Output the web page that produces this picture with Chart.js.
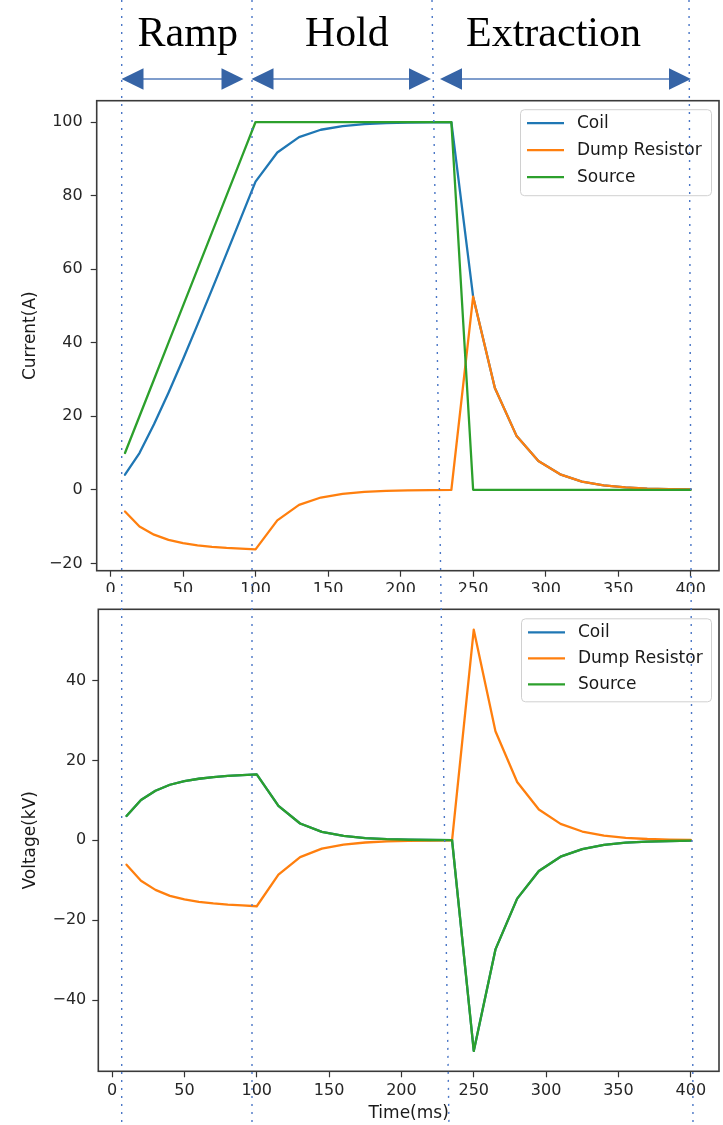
<!DOCTYPE html>
<html><head><meta charset="utf-8">
<script src="https://cdn.jsdelivr.net/npm/chart.js@4.4.1/dist/chart.umd.min.js"></script>
<style>
html,body{margin:0;padding:0;background:#fff;}
#stage{position:relative;width:723px;height:1125px;overflow:hidden;background:#fff;}
#topWrap{position:absolute;left:0;top:0;width:723px;height:592px;overflow:hidden;}
#botWrap{position:absolute;left:0;top:592px;width:723px;height:533px;overflow:hidden;background:#fff;}
#overlay{position:absolute;left:0;top:0;pointer-events:none;}
canvas{display:block;}
</style></head>
<body><div id="stage">
<div id="topWrap"><canvas id="cTop" width="723" height="611"></canvas></div>
<div id="botWrap"><canvas id="cBot" width="723" height="533"></canvas></div>
<svg id="overlay" width="723" height="1125" xmlns="http://www.w3.org/2000/svg"></svg>
</div>
<script>
// ---------------- DATA ----------------
const times = [10,20,30,40,50,60,70,80,90,100,115,130,145,160,175,190,205,220,235,250,265,280,295,310,325,340,355,370,385,400];

const coilCurrent   = [4.1,10.0,17.8,26.4,35.5,44.9,54.5,64.2,74.0,83.8, 91.7,95.9,97.9,98.9,99.45,99.72,99.86,99.93,99.96, 52.5,27.7,14.6,7.8,4.2,2.2,1.2,0.63,0.33,0.18,0.09];
const dumpCurrent   = [-5.9,-10.0,-12.2,-13.6,-14.5,-15.1,-15.5,-15.8,-16.0,-16.2, -8.3,-4.1,-2.1,-1.1,-0.55,-0.28,-0.14,-0.07,-0.04, 52.5,27.7,14.6,7.8,4.2,2.2,1.2,0.63,0.33,0.18,0.09];
const sourceCurrent = [10,20,30,40,50,60,70,80,90,100, 100,100,100,100,100,100,100,100,100, 0,0,0,0,0,0,0,0,0,0,0];

const coilVoltage   = [6.1,10.1,12.4,13.9,14.8,15.4,15.8,16.1,16.3,16.5, 8.6,4.2,2.1,1.1,0.55,0.28,0.14,0.07,0.04, -52.7,-27.3,-14.6,-7.7,-4.1,-2.2,-1.15,-0.6,-0.32,-0.17,-0.09];
const dumpVoltage   = [-6.1,-10.1,-12.4,-13.9,-14.8,-15.4,-15.8,-16.1,-16.3,-16.5, -8.6,-4.2,-2.1,-1.1,-0.55,-0.28,-0.14,-0.07,-0.04, 52.7,27.3,14.6,7.7,4.1,2.2,1.15,0.6,0.32,0.17,0.09];
const sourceVoltage = [6.1,10.1,12.4,13.9,14.8,15.4,15.8,16.1,16.3,16.5, 8.6,4.2,2.1,1.1,0.55,0.28,0.14,0.07,0.04, -52.7,-27.3,-14.6,-7.7,-4.1,-2.2,-1.15,-0.6,-0.32,-0.17,-0.09];

const seriesLabels = ['Coil','Dump Resistor','Source'];
const xTickValues = [0,50,100,150,200,250,300,350,400];
const currentTickValues = [-20,0,20,40,60,80,100];
const voltageTickValues = [-40,-20,0,20,40];
const phaseNames = ['Ramp','Hold','Extraction'];
const currentTitle = 'Current(A)';
const voltageTitle = 'Voltage(kV)';
const timeTitle = 'Time(ms)';

// ---------------- STYLE ----------------
const colors = ['#1f77b4','#ff7f0e','#2ca02c'];
const FONT = "'DejaVu Sans', sans-serif";
const W = 723;

const framePlugin = {
  id:'mplFrame',
  afterDatasetsDraw(chart){
    const a = chart.chartArea, ctx = chart.ctx;
    ctx.save();
    ctx.strokeStyle = '#3a3a3a'; ctx.lineWidth = 1.6;
    ctx.strokeRect(a.left, a.top, a.right - a.left, a.bottom - a.top);
    ctx.restore();
  }
};

const legendPlugin = {
  id:'mplLegend',
  afterDraw(chart, args, o){
    const ctx = chart.ctx, a = chart.chartArea, ds = chart.data.datasets;
    const x0 = a.right - o.right - o.width, y0 = a.top + o.top;
    ctx.save();
    ctx.beginPath();
    ctx.roundRect(x0 + 0.5, y0 + 0.5, o.width, o.height, 4);
    ctx.fillStyle = 'rgba(255,255,255,0.85)'; ctx.fill();
    ctx.strokeStyle = '#d0d0d0'; ctx.lineWidth = 1; ctx.stroke();
    ds.forEach((d, i) => {
      const cy = y0 + o.firstRow + i * o.rowGap;
      ctx.beginPath();
      ctx.moveTo(x0 + 7, cy); ctx.lineTo(x0 + 44, cy);
      ctx.strokeStyle = d.borderColor; ctx.lineWidth = 2.3; ctx.stroke();
      ctx.fillStyle = '#1a1a1a';
      ctx.font = '17px ' + FONT;
      ctx.textBaseline = 'middle'; ctx.textAlign = 'left';
      ctx.fillText(d.label, x0 + 57, cy);
    });
    ctx.restore();
  }
};

const minusFmt = v => v < 0 ? '\u2212' + Math.abs(v) : String(v);

function mplChart(canvas, cfg){
  const scaleCommon = {
    grid:{drawOnChartArea:false, drawTicks:true, tickLength:6, tickColor:'#333', tickWidth:1.2, color:'#333'},
    border:{display:false}
  };
  return new Chart(canvas, {
    type:'line',
    data:{ datasets: cfg.series.map((vals, i) => ({
      label: seriesLabels[i],
      data: times.map((t, k) => ({x:t, y:vals[k]})),
      borderColor: colors[i], backgroundColor: colors[i],
      borderWidth: 2.3, pointRadius: 0, tension: 0, fill: false,
      borderJoinStyle:'round', borderCapStyle:'round',
      order: cfg.series.length - i
    }))},
    options:{
      responsive:false, animation:false, events:[],
      layout:{padding:{top:cfg.areaTop, right:W - cfg.areaRight, left:0, bottom:0}},
      plugins:{
        legend:{display:false}, tooltip:{enabled:false},
        mplLegend: cfg.legend
      },
      scales:{
        x:{
          type:'linear', min:-9.5, max:419.5,
          afterBuildTicks: s => { s.ticks = xTickValues.map(v => ({value:v})); },
          afterFit: s => { s.height = cfg.xAxisHeight; },
          ticks:{font:{family:FONT, size:16}, color:'#262626', padding:cfg.xPad, maxRotation:0, autoSkip:false, callback:minusFmt},
          title: cfg.xTitle ? {display:true, text:cfg.xTitle, font:{family:FONT, size:17}, color:'#1a1a1a', padding:{top:0, bottom:cfg.xTitlePad}} : {display:false},
          ...scaleCommon
        },
        y:{
          type:'linear', min:cfg.yMin, max:cfg.yMax,
          afterBuildTicks: s => { s.ticks = cfg.yTicks.map(v => ({value:v})); },
          afterFit: s => { s.width = cfg.areaLeft; },
          ticks:{font:{family:FONT, size:16}, color:'#262626', padding:cfg.yPad, autoSkip:false, callback:minusFmt},
          title:{display:true, text:cfg.yTitle, font:{family:FONT, size:17}, color:'#1a1a1a', padding:{top:20, bottom:0}},
          ...scaleCommon
        }
      }
    },
    plugins:[framePlugin, legendPlugin]
  });
}

mplChart(document.getElementById('cTop'), {
  series:[coilCurrent, dumpCurrent, sourceCurrent],
  areaTop:100.7, areaLeft:96.7, areaRight:719, xAxisHeight:611 - 570.7,
  yMin:-22.0, yMax:105.8, yTicks:currentTickValues, yTitle:currentTitle,
  xPad:4, yPad:8, xTitle:null,
  legend:{width:191, height:86, right:8, top:8.5, firstRow:14, rowGap:27}
});

mplChart(document.getElementById('cBot'), {
  series:[coilVoltage, dumpVoltage, sourceVoltage],
  areaTop:609.3 - 592, areaLeft:98.3, areaRight:719, xAxisHeight:533 - (1071.3 - 592),
  yMin:-57.8, yMax:57.8, yTicks:voltageTickValues, yTitle:voltageTitle,
  xPad:4, yPad:6, xTitle:timeTitle, xTitlePad:1,
  legend:{width:190, height:83, right:8, top:9, firstRow:14, rowGap:26}
});

// ---------------- HEADER / ANNOTATIONS ----------------
(function(){
  const NS = 'http://www.w3.org/2000/svg';
  const svg = document.getElementById('overlay');
  const mk = (tag, attrs, text) => {
    const e = document.createElementNS(NS, tag);
    for (const k in attrs) e.setAttribute(k, attrs[k]);
    if (text) e.textContent = text;
    svg.appendChild(e); return e;
  };
  const textX = [137.5, 305, 466];
  const textW = [100.5, 83.5, 175];
  phaseNames.forEach((p, i) => {
    mk('text', {x:textX[i], y:46, 'font-family':"'Liberation Serif','Times New Roman',serif", 'font-size':42,
      fill:'#000', textLength:textW[i], lengthAdjust:'spacingAndGlyphs'}, p);
  });
  const arrows = [[121.5,243.5],[251.5,431],[440,691]];
  const ay = 79, hw = 22, hh = 10.8;
  arrows.forEach(([l, r]) => {
    mk('line', {x1:l + 10, y1:ay, x2:r - 10, y2:ay, stroke:'#7f9dcc', 'stroke-width':2.2});
    mk('polygon', {points:`${l},${ay} ${l+hw},${ay-hh} ${l+hw},${ay+hh}`, fill:'#3664a6'});
    mk('polygon', {points:`${r},${ay} ${r-hw},${ay-hh} ${r-hw},${ay+hh}`, fill:'#3664a6'});
  });
  const vlines = [[121.7,121.7],[252,252],[432,449],[689,693]];
  vlines.forEach(([xt, xb]) => {
    mk('line', {x1:xt, y1:0, x2:xb, y2:1125, stroke:'#4a76c6', 'stroke-width':1.4, 'stroke-dasharray':'2 6'});
  });
})();
</script>
</body></html>
